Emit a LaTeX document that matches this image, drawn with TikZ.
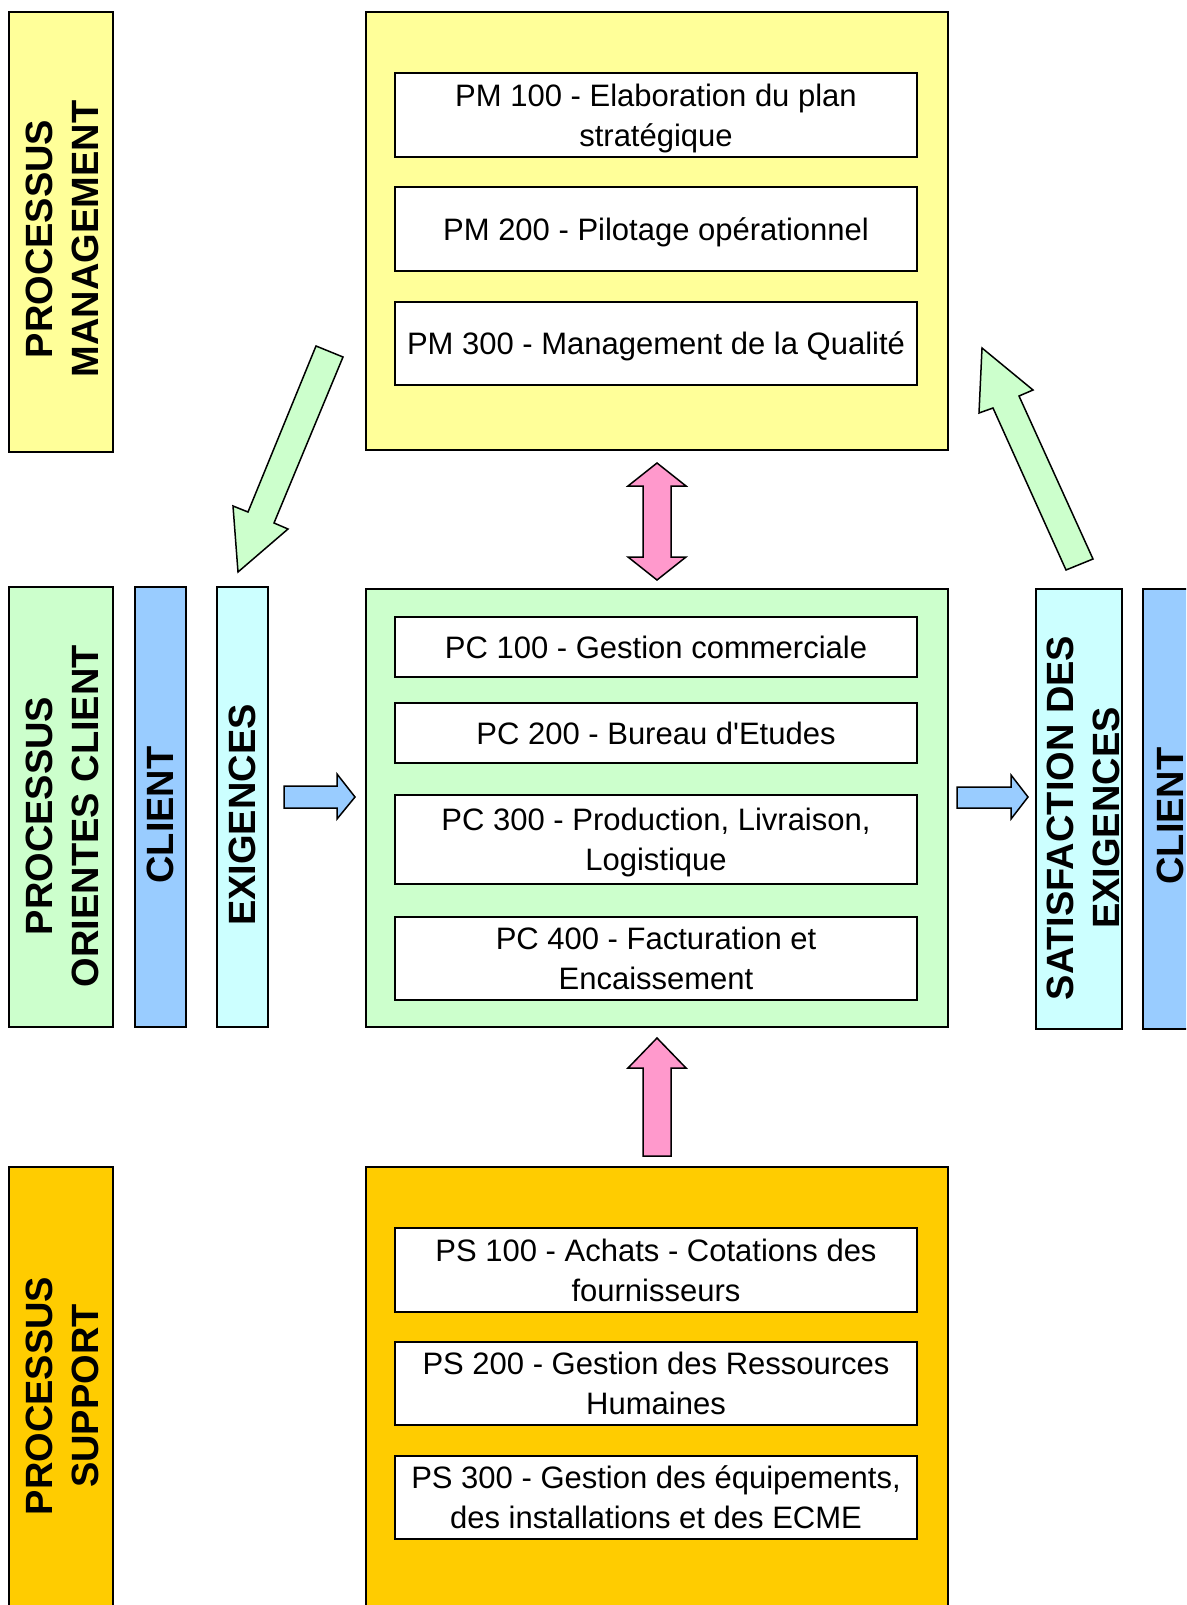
\documentclass[tikz,border=0pt]{standalone}
\usepackage{fontspec}
\setmainfont{Liberation Sans}
\usepackage{tikz}
\definecolor{pmyellow}{HTML}{FFFF99}
\definecolor{pcgreen}{HTML}{CCFFCC}
\definecolor{psorange}{HTML}{FFCC00}
\definecolor{clientblue}{HTML}{99CCFF}
\definecolor{exigcyan}{HTML}{CCFFFF}
\definecolor{linkpink}{HTML}{FF99CC}
\begin{document}
\begin{tikzpicture}[x=1pt,y=1pt,
    mainbox/.style={draw, line width=1.6pt, minimum width=582pt, inner sep=0pt},
    subbox/.style={draw, fill=white, line width=1.3pt, minimum width=522pt, inner sep=0pt,
        align=center, text depth=-11pt, font=\fontsize{31}{40}\selectfont},
    sidebox/.style={draw, line width=1.6pt, inner sep=0pt},
    sidetext/.style={rotate=90, inner sep=0pt, align=center,
        font=\fontsize{38}{46}\selectfont\bfseries},
    fatarrow/.style={draw, line width=1.5pt, line join=miter}]
        \useasboundingbox (0,0) rectangle (1186,-1605);
        \clip (0,0) rectangle (1186,-1605);
        %%Main blocks
        \node[mainbox, fill=pmyellow, minimum height=438pt] (pm) at (657,-231) {};
        \node[mainbox, fill=pcgreen, minimum height=438pt] (pc) at (657,-808) {};
        \node[mainbox, fill=psorange, minimum height=460pt] (ps) at (657,-1397) {};
        %%Side labels
        \node[sidebox, fill=pmyellow, minimum height=440pt, minimum width=104pt] (pmlabel) at (61,-232) {};
        \node[sidebox, fill=pcgreen, minimum height=440pt, minimum width=104pt] (pclabel) at (61,-807) {};
        \node[sidebox, fill=psorange, minimum height=460pt, minimum width=104pt] (pslabel) at (61,-1397) {};
        \node[sidebox, fill=clientblue, minimum height=440pt, minimum width=51pt] (clientin) at (160.5,-807) {};
        \node[sidebox, fill=exigcyan, minimum height=440pt, minimum width=51pt] (exig) at (242.5,-807) {};
        \node[sidebox, fill=exigcyan, minimum height=440pt, minimum width=86pt] (satis) at (1079,-809) {};
        \node[sidebox, fill=clientblue, minimum height=440pt, minimum width=51pt] (clientout) at (1168.5,-809) {};
        \node[sidetext] (pmtext) at ([xshift=1pt, yshift=-7pt]pmlabel.center) {PROCESSUS\\MANAGEMENT};
        \node[sidetext] (pctext) at ([xshift=1pt, yshift=-9pt]pclabel.center) {PROCESSUS\\ORIENTES CLIENT};
        \node[sidetext] (pstext) at ([xshift=1pt, yshift=1pt]pslabel.center) {PROCESSUS\\SUPPORT};
        \node[sidetext] (clientintext) at ([yshift=-8pt]clientin.center) {CLIENT};
        \node[sidetext] (exigtext) at ([yshift=-8pt]exig.center) {EXIGENCES};
        \node[sidetext] (satistext) at ([xshift=4pt, yshift=-9pt]satis.center) {SATISFACTION DES\\EXIGENCES};
        \node[sidetext] (clientouttext) at ([xshift=2pt, yshift=-7pt]clientout.center) {CLIENT};
        %%Management
        \node[subbox, minimum height=84pt] (pm100) at (656,-115) {PM 100 - Elaboration du plan\\strat\'egique};
        \node[subbox, minimum height=84pt] (pm200) at (656,-229) {PM 200 - Pilotage op\'erationnel};
        \node[subbox, minimum height=83pt] (pm300) at (656,-343.5) {PM 300 - Management de la Qualit\'e};
        %%Client
        \node[subbox, minimum height=60pt] (pc100) at (656,-647) {PC 100 - Gestion commerciale};
        \node[subbox, minimum height=60pt] (pc200) at (656,-733) {PC 200 - Bureau d\textquotesingle Etudes};
        \node[subbox, minimum height=89pt] (pc300) at (656,-839.5) {PC 300 - Production, Livraison,\\Logistique};
        \node[subbox, minimum height=83pt] (pc400) at (656,-958.5) {PC 400 - Facturation et\\Encaissement};
        %%Support
        \node[subbox, minimum height=84pt] (ps100) at (656,-1270) {PS 100 - Achats - Cotations des\\fournisseurs};
        \node[subbox, minimum height=83pt] (ps200) at (656,-1383.5) {PS 200 - Gestion des Ressources\\Humaines};
        \node[subbox, minimum height=83pt] (ps300) at (656,-1497.5) {PS 300 - Gestion des \'equipements,\\des installations et des ECME};
        %%Arrows
        \draw[fatarrow, fill=linkpink] (657,-463) -- (686,-486) -- (671,-486) -- (671,-557) -- (686,-557)
            -- (657,-580) -- (628,-557) -- (643,-557) -- (643,-486) -- (628,-486) -- cycle;
        \draw[fatarrow, fill=linkpink] (657,-1038) -- (686,-1068) -- (671,-1068) -- (671,-1156)
            -- (643,-1156) -- (643,-1068) -- (628,-1068) -- cycle;
        \draw[fatarrow, fill=clientblue] (284,-786) -- (337,-786) -- (337,-774) -- (355,-797)
            -- (337,-819) -- (337,-808) -- (284,-808) -- cycle;
        \draw[fatarrow, fill=clientblue] (957,-787) -- (1011,-787) -- (1011,-775) -- (1028,-797)
            -- (1011,-819) -- (1011,-808) -- (957,-808) -- cycle;
        \draw[fatarrow, fill=pcgreen] (316,-346) -- (343,-357) -- (274,-523) -- (288,-529)
            -- (238,-572) -- (233,-506) -- (248,-512) -- cycle;
        \draw[fatarrow, fill=pcgreen] (982,-348) -- (1033,-390) -- (1019,-396) -- (1093,-559)
            -- (1066,-570) -- (993,-408) -- (979,-413) -- cycle;
\end{tikzpicture}
\end{document}
